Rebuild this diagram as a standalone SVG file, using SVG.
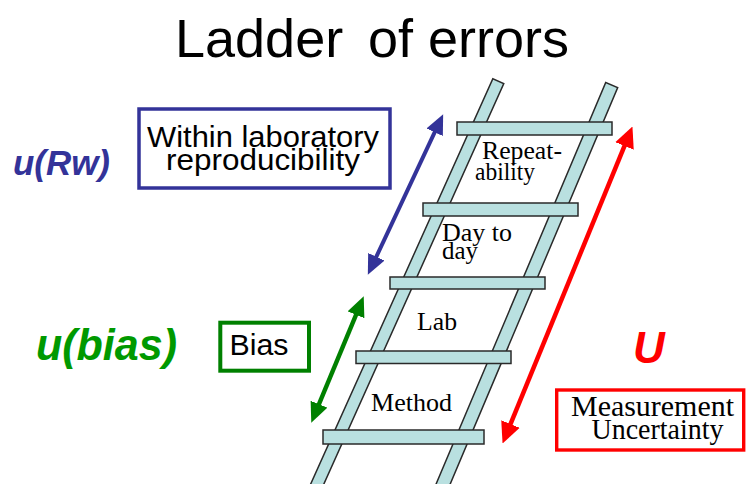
<svg xmlns="http://www.w3.org/2000/svg" width="746" height="484" viewBox="0 0 746 484">
<style>
.sans{font-family:"Liberation Sans",Arial,sans-serif}
.serif{font-family:"Liberation Serif","Times New Roman",serif;fill:#000}
.rail{fill:#b9e0e0;stroke:#2a2a2a;stroke-width:1.5}
.rung{fill:#b9e0e0;stroke:#2a2a2a;stroke-width:1.5}
.lbl{font-size:25px}
.sym{font-weight:bold;font-style:italic}
.box{fill:#fff}
</style>
<defs>
<marker id="hb" markerUnits="userSpaceOnUse" markerWidth="20" markerHeight="18" refX="9" refY="9" orient="auto-start-reverse"><path d="M0,0 L20,9 L0,18 z" fill="#333399"/></marker>
<marker id="hg" markerUnits="userSpaceOnUse" markerWidth="20" markerHeight="18" refX="9" refY="9" orient="auto-start-reverse"><path d="M0,0 L20,9 L0,18 z" fill="#008000"/></marker>
<marker id="hr" markerUnits="userSpaceOnUse" markerWidth="21" markerHeight="20" refX="9" refY="10" orient="auto-start-reverse"><path d="M0,0 L21,10 L0,20 z" fill="#ff0000"/></marker>
</defs>
<rect width="746" height="484" fill="#fff"/>
<g id="title">
<text class="sans" x="175" y="57" font-size="54" fill="#000">Ladder <tspan x="368">of errors</tspan></text>
</g>
<g id="ladder">
<rect class="rail" x="-6" y="0" width="12" height="460" transform="translate(498.3,81.2) rotate(24.2)"/>
<rect class="rail" x="-6.5" y="0" width="13" height="460" transform="translate(611.7,85) rotate(22.9)"/>
<rect class="rung" x="457" y="122" width="155" height="13"/>
<rect class="rung" x="423" y="203" width="155" height="13"/>
<rect class="rung" x="390" y="277" width="155" height="12"/>
<rect class="rung" x="356" y="351" width="155" height="12.5"/>
<rect class="rung" x="323" y="430" width="161" height="14"/>
</g>
<g id="step-repeatability">
<text class="serif lbl" x="482" y="159" textLength="80" lengthAdjust="spacingAndGlyphs">Repeat-</text>
<text class="serif lbl" x="475" y="180" textLength="60" lengthAdjust="spacingAndGlyphs">ability</text>
</g>
<g id="step-day-to-day">
<text class="serif lbl" x="442" y="241" textLength="70" lengthAdjust="spacingAndGlyphs">Day to</text>
<text class="serif lbl" x="442" y="259" textLength="36" lengthAdjust="spacingAndGlyphs">day</text>
</g>
<g id="step-lab">
<text class="serif lbl" x="417" y="330" textLength="40" lengthAdjust="spacingAndGlyphs">Lab</text>
</g>
<g id="step-method">
<text class="serif lbl" x="371" y="411" textLength="81" lengthAdjust="spacingAndGlyphs">Method</text>
</g>
<g id="connectors" fill="none">
<line x1="438.5" y1="124.1" x2="372.5" y2="264.9" stroke="#333399" stroke-width="4" marker-start="url(#hb)" marker-end="url(#hb)"/>
<line x1="359.5" y1="306.5" x2="315.5" y2="412.5" stroke="#008000" stroke-width="4.5" marker-start="url(#hg)" marker-end="url(#hg)"/>
<line x1="627.9" y1="137.6" x2="507.1" y2="432.4" stroke="#ff0000" stroke-width="4.5" marker-start="url(#hr)" marker-end="url(#hr)"/>
</g>
<g id="urw">
<text class="sans sym" x="13" y="175" font-size="35" fill="#333399" textLength="97" lengthAdjust="spacingAndGlyphs">u(Rw)</text>
</g>
<g id="within-lab">
<rect class="box" x="139" y="109" width="251" height="79" stroke="#333399" stroke-width="3.5"/>
<text class="sans" x="263" y="147" font-size="30" text-anchor="middle" fill="#000" textLength="232" lengthAdjust="spacingAndGlyphs">Within laboratory</text>
<text class="sans" x="263" y="170" font-size="30" text-anchor="middle" fill="#000" textLength="194" lengthAdjust="spacingAndGlyphs">reproducibility</text>
</g>
<g id="ubias">
<text class="sans sym" x="36" y="360" font-size="44" fill="#009900" textLength="141" lengthAdjust="spacingAndGlyphs">u(bias)</text>
</g>
<g id="bias">
<rect class="box" x="220.3" y="322.7" width="88.7" height="48" stroke="#008000" stroke-width="4"/>
<text class="sans" x="229.5" y="355" font-size="30" fill="#000" textLength="59" lengthAdjust="spacingAndGlyphs">Bias</text>
</g>
<g id="u">
<text class="sans sym" x="633" y="363" font-size="44" fill="#ff0000">U</text>
</g>
<g id="measurement-uncertainty">
<rect class="box" x="556.7" y="390" width="187" height="60" stroke="#ff0000" stroke-width="3.4"/>
<text class="serif" x="652.5" y="416" font-size="30" text-anchor="middle" textLength="163" lengthAdjust="spacingAndGlyphs">Measurement</text>
<text class="serif" x="657.5" y="439" font-size="29" text-anchor="middle" textLength="132" lengthAdjust="spacingAndGlyphs">Uncertainty</text>
</g>
</svg>
